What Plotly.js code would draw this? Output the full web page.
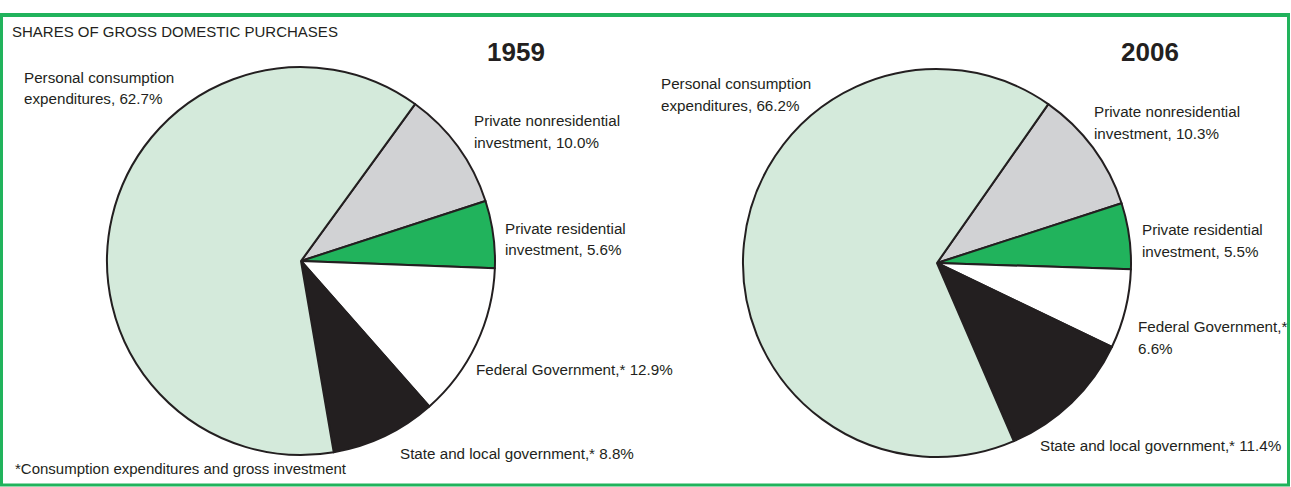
<!DOCTYPE html>
<html>
<head>
<meta charset="utf-8">
<script src="https://cdn.plot.ly/plotly-3.0.1.min.js"></script>
<style>
  html, body { margin: 0; padding: 0; background: #fff; }
  #chart { width: 1291px; height: 487px; }
</style>
</head>
<body>
<div id="chart"></div>
<script>
// Slices in clockwise order, starting at the upper right.
const categories = [
  "Private nonresidential<br>investment",
  "Private residential<br>investment",
  "Federal Government,*",
  "State and local government,*",
  "Personal consumption<br>expenditures",
];
const shares1959 = [10.0, 5.6, 12.9, 8.8, 62.7];
const shares2006 = [10.3, 5.5, 6.6, 11.4, 66.2];
const years = ["1959", "2006"];
const sliceColors = ["#d1d2d4", "#21b35c", "#ffffff", "#231f20", "#d4eadb"];

const W = 1291;
const H = 487;
const FONT = "'Liberation Sans', Arial, sans-serif";
const INK = "#231f20";
const FRAME = "#21b35c";
const LINE_GAP = 22; // px between label lines

// pixel -> paper helpers
const px = (x) => x / W;
const py = (y) => 1 - y / H;

function pieTrace(values, cx, cy, r, rotation) {
  return {
    type: "pie",
    labels: categories,
    values: values,
    sort: false,
    direction: "clockwise",
    rotation: rotation,
    textinfo: "none",
    hoverinfo: "label+value",
    marker: { colors: sliceColors, line: { color: INK, width: 2 } },
    domain: { x: [px(cx - r), px(cx + r)], y: [py(cy + r), py(cy - r)] },
  };
}

// label text: category name plus share, the break before the share is optional
function label(i, values, breakBefore) {
  const v = values[i].toFixed(1) + "%";
  const sep = categories[i].endsWith("*") ? (breakBefore ? "<br>" : " ") : ", ";
  return categories[i] + sep + v;
}

function note(text, x, y, opts = {}) {
  return Object.assign(
    {
      text: text,
      xref: "paper",
      yref: "paper",
      x: px(x),
      y: py(y),
      xanchor: "left",
      yanchor: "middle",
      align: "left",
      showarrow: false,
      font: { family: FONT, size: 15.2, color: INK },
    },
    opts
  );
}

// one annotation per line so the line gap matches the print
function block(text, x, yFirst) {
  return text.split("<br>").map((line, k) => note(line, x, yFirst + k * LINE_GAP));
}

const annotations = [
  note("SHARES OF GROSS DOMESTIC PURCHASES", 10, 32, { font: { family: FONT, size: 15, color: INK } }),
  note("*Consumption expenditures and gross investment", 13, 468, { font: { family: FONT, size: 15, color: INK } }),
  note(years[0], 516, 52, { xanchor: "center", font: { family: FONT, size: 26, color: INK, weight: "bold" } }),
  note(years[1], 1150, 52, { xanchor: "center", font: { family: FONT, size: 26, color: INK, weight: "bold" } }),

  // 1959
  ...block(label(4, shares1959), 22, 77),
  ...block(label(0, shares1959), 472, 121),
  ...block(label(1, shares1959), 503, 228),
  ...block(label(2, shares1959), 474, 369),
  ...block(label(3, shares1959), 398, 453),

  // 2006
  ...block(label(4, shares2006), 659, 83),
  ...block(label(0, shares2006), 1092, 111),
  ...block(label(1, shares2006), 1140, 229),
  ...block(label(2, shares2006, true), 1136, 326),
  ...block(label(3, shares2006), 1038, 445),
];

const shapes = [
  {
    type: "rect", xref: "paper", yref: "paper",
    x0: px(1.5), x1: px(1288.5), y0: py(485), y1: py(15.5),
    line: { color: FRAME, width: 3 },
  },
  {
    type: "line", xref: "paper", yref: "paper",
    x0: px(0), x1: px(1290), y0: py(15), y1: py(15),
    line: { color: FRAME, width: 4 },
  },
];

const data = [
  pieTrace(shares1959, 301, 261, 194, 36),
  pieTrace(shares2006, 937, 263, 194, 35),
];

const layout = {
  width: W,
  height: H,
  margin: { l: 0, r: 0, t: 0, b: 0 },
  paper_bgcolor: "#ffffff",
  showlegend: false,
  annotations: annotations,
  shapes: shapes,
};

Plotly.newPlot("chart", data, layout, { staticPlot: true });
</script>
</body>
</html>
